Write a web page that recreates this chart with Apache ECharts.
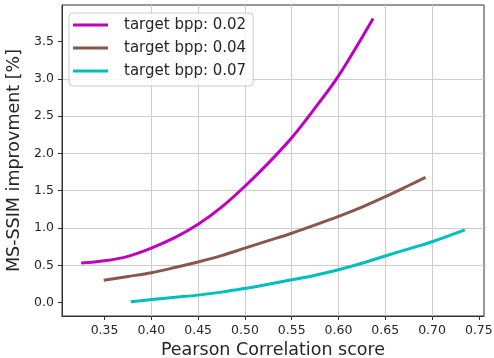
<!DOCTYPE html>
<html>
<head>
<meta charset="utf-8">
<script src="https://cdn.jsdelivr.net/npm/echarts@6/dist/echarts.min.js"></script>
<style>
html,body{margin:0;padding:0;background:#fff;}
#chart{width:494px;height:358px;}
</style>
</head>
<body>
<div id="chart"></div>
<script>
const seriesNames = ['target bpp: 0.02', 'target bpp: 0.04', 'target bpp: 0.07'];
const magentaX = [0.325, 0.35, 0.375, 0.40, 0.425, 0.45, 0.475, 0.50, 0.525, 0.55, 0.575, 0.60, 0.637];
const magentaY = [0.53, 0.56, 0.62, 0.73, 0.87, 1.05, 1.28, 1.56, 1.87, 2.21, 2.61, 3.04, 3.81];
const brownX = [0.349, 0.375, 0.40, 0.425, 0.45, 0.475, 0.50, 0.525, 0.55, 0.575, 0.60, 0.625, 0.65, 0.675, 0.693];
const brownY = [0.30, 0.35, 0.40, 0.47, 0.545, 0.63, 0.73, 0.83, 0.93, 1.04, 1.155, 1.28, 1.42, 1.57, 1.68];
const cyanX = [0.378, 0.40, 0.425, 0.45, 0.475, 0.50, 0.525, 0.55, 0.575, 0.60, 0.625, 0.65, 0.675, 0.70, 0.735];
const cyanY = [0.01, 0.04, 0.07, 0.10, 0.14, 0.19, 0.245, 0.305, 0.366, 0.44, 0.527, 0.625, 0.72, 0.816, 0.975];
const xTicks = [0.35, 0.40, 0.45, 0.50, 0.55, 0.60, 0.65, 0.70, 0.75];
const yTicks = [0.0, 0.5, 1.0, 1.5, 2.0, 2.5, 3.0, 3.5];
const colors = ['#bf00bf', '#8c564b', '#00bfbf'];

const pair = (xs, ys) => xs.map((x, i) => [x, ys[i]]);
const chart = echarts.init(document.getElementById('chart'), null, {renderer: 'canvas'});
const font = 'DejaVu Sans';
const textColor = '#262626';
const lineSeries = (i, data) => ({
  name: seriesNames[i], type: 'line', data: data, smooth: 0.35,
  showSymbol: false, color: colors[i], lineStyle: {width: 3}
});

chart.setOption({
  animation: false,
  backgroundColor: '#fff',
  grid: {left: 62, right: 10, top: 5, bottom: 42, outerBoundsMode: 'none', containLabel: false,
    show: true, borderColor: '#333', borderWidth: 1, backgroundColor: 'transparent'},
  legend: {
    orient: 'vertical', left: 69, top: 13,
    padding: [3, 7, 6, 4], itemGap: 5,
    itemWidth: 35, itemHeight: 3, icon: 'rect',
    backgroundColor: 'rgba(255,255,255,0.8)', borderColor: '#cccccc', borderWidth: 1, borderRadius: 4,
    textStyle: {fontFamily: font, fontSize: 15, color: textColor, lineHeight: 18, padding: [0, 0, 0, 11]},
    data: seriesNames
  },
  xAxis: {
    type: 'value', min: 0.3045, max: 0.7555, splitNumber: 9,
    name: 'Pearson Correlation score', nameLocation: 'middle', nameGap: 24,
    nameTextStyle: {fontFamily: font, fontSize: 17.5, color: textColor},
    axisLine: {show: true, onZero: false, lineStyle: {color: '#333', width: 1}},
    axisTick: {show: true, length: 4, lineStyle: {color: '#333'}, customValues: xTicks},
    axisLabel: {fontFamily: font, fontSize: 12.5, color: textColor, margin: 8, customValues: xTicks,
      formatter: v => v.toFixed(2)},
    splitLine: {show: true, showMinLine: false, showMaxLine: false, lineStyle: {color: '#cdcdcd', width: 1}}
  },
  yAxis: {
    type: 'value', min: -0.18, max: 3.99, splitNumber: 8,
    name: 'MS-SSIM improvment [%]', nameLocation: 'middle', nameGap: 32,
    nameTextStyle: {fontFamily: font, fontSize: 17.5, color: textColor},
    axisLine: {show: true, onZero: false, lineStyle: {color: '#333', width: 1}},
    axisTick: {show: true, length: 4, lineStyle: {color: '#333'}, customValues: yTicks},
    axisLabel: {fontFamily: font, fontSize: 12.5, color: textColor, margin: 8, customValues: yTicks,
      formatter: v => v.toFixed(1)},
    splitLine: {show: true, showMinLine: false, showMaxLine: false, lineStyle: {color: '#cdcdcd', width: 1}}
  },
  series: [
    lineSeries(0, pair(magentaX, magentaY)),
    lineSeries(1, pair(brownX, brownY)),
    lineSeries(2, pair(cyanX, cyanY))
  ]
});
</script>
</body>
</html>
